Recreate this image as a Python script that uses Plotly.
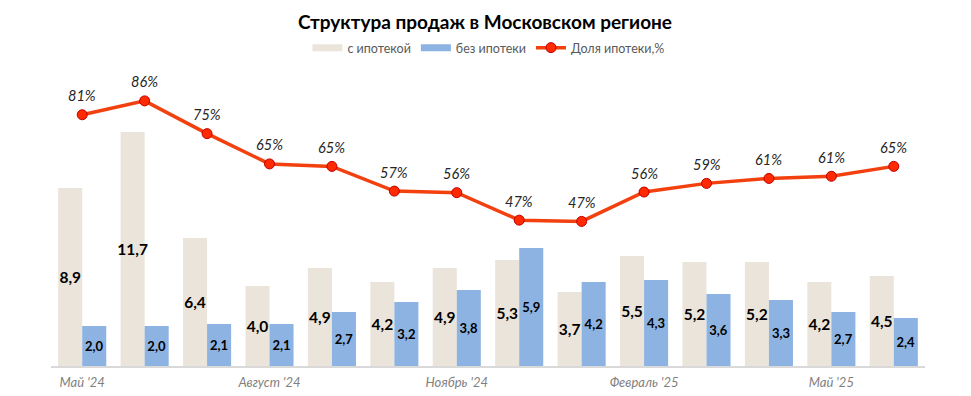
import plotly.graph_objects as go

months = ["Май '24", "Июнь '24", "Июль '24", "Август '24", "Сентябрь '24", "Октябрь '24",
          "Ноябрь '24", "Декабрь '24", "Январь '25", "Февраль '25", "Март '25", "Апрель '25",
          "Май '25", "Июнь '25"]
with_mortgage = [8.9, 11.7, 6.4, 4.0, 4.9, 4.2, 4.9, 5.3, 3.7, 5.5, 5.2, 5.2, 4.2, 4.5]
without_mortgage = [2.0, 2.0, 2.1, 2.1, 2.7, 3.2, 3.8, 5.9, 4.2, 4.3, 3.6, 3.3, 2.7, 2.4]
mortgage_share = [81.3, 85.8, 75.2, 65.4, 64.6, 56.6, 56.1, 47.2, 46.8, 56.3, 59.1, 60.7, 61.4, 64.6]
tick_idx = [0, 3, 6, 9, 12]

x = list(range(len(months)))
FONT = "Lato"
BEIGE = "#EBE4DA"
BLUE = "#8DB3E2"

fig = go.Figure()
fig.add_trace(go.Bar(
    x=x, y=with_mortgage, name="с ипотекой", showlegend=False,
    marker=dict(color=BEIGE, line=dict(width=0)),
    texttemplate="%{y:.1f}", textposition="inside", insidetextanchor="middle",
    constraintext="none", textangle=0,
    textfont=dict(family=FONT, size=15.5, color="#000000", weight="bold"),
))
fig.add_trace(go.Bar(
    x=x, y=without_mortgage, name="без ипотеки", showlegend=False,
    marker=dict(color=BLUE, line=dict(width=0)),
    texttemplate="%{y:.1f}", textposition="inside", insidetextanchor="middle",
    constraintext="none", textangle=0,
    textfont=dict(family=FONT, size=13, color="#000000", weight="bold"),
))
fig.add_trace(go.Scatter(
    x=x, y=mortgage_share, name="Доля ипотеки,%", yaxis="y2",
    mode="lines+markers", showlegend=False,
    line=dict(color="#F2400F", width=3.5),
    marker=dict(size=10, color="#FF2A00", line=dict(color="#C00000", width=1)),
))
# legend entries (flat boxes like the original)
fig.add_trace(go.Scatter(x=[None], y=[None], name="с ипотекой", mode="lines",
                         line=dict(color=BEIGE, width=7)))
fig.add_trace(go.Scatter(x=[None], y=[None], name="без ипотеки", mode="lines",
                         line=dict(color=BLUE, width=7)))
fig.add_trace(go.Scatter(x=[None], y=[None], name="Доля ипотеки,%", mode="lines+markers",
                         line=dict(color="#F2400F", width=3.5),
                         marker=dict(size=10, color="#FF2A00", line=dict(color="#C00000", width=1))))

annotations = []
for xi, v in zip(x, mortgage_share):
    annotations.append(dict(
        x=xi, y=v, xref="x", yref="y2", text=f"{round(v)}%", showarrow=False,
        yshift=19, font=dict(family=FONT, size=14.5, color="#262626", style="italic"),
    ))

# page body has an 8px default margin, so the figure is sized/offset to compensate
W, H = 963, 388
fig.update_layout(
    width=W, height=H,
    margin=dict(l=43, r=46, t=49, b=30, autoexpand=False),
    paper_bgcolor="white", plot_bgcolor="white",
    separators=", ",
    barmode="group", bargap=0.23, bargroupgap=0,
    title=dict(text="<b>Структура продаж в Московском регионе</b>",
               x=(485 - 8) / W, xanchor="center",
               y=1 - (22 - 8) / H, yanchor="middle",
               font=dict(family=FONT, size=19, color="#000000")),
    legend=dict(orientation="h", x=(490 - 8) / W, xanchor="center",
                y=1 - (48 - 8) / H, yref="container",
                yanchor="middle", font=dict(family=FONT, size=12.5, color="#595959"),
                traceorder="normal", itemwidth=30, bgcolor="rgba(0,0,0,0)"),
    xaxis=dict(
        range=[-0.5, len(months) - 0.5],
        tickvals=[x[i] for i in tick_idx], ticktext=[months[i] for i in tick_idx],
        tickfont=dict(family=FONT, size=13, color="#7F7F7F", style="italic"),
        ticklabelstandoff=4,
        showline=True, linecolor="#D9D9D9", linewidth=1.5,
        showgrid=False, zeroline=False, ticks="", ticklen=0,
    ),
    yaxis=dict(range=[0, 15.45], visible=False, showgrid=False, zeroline=False),
    yaxis2=dict(range=[0, 100], overlaying="y", visible=False, showgrid=False, zeroline=False),
    annotations=annotations,
)

fig.write_html("out.html")
